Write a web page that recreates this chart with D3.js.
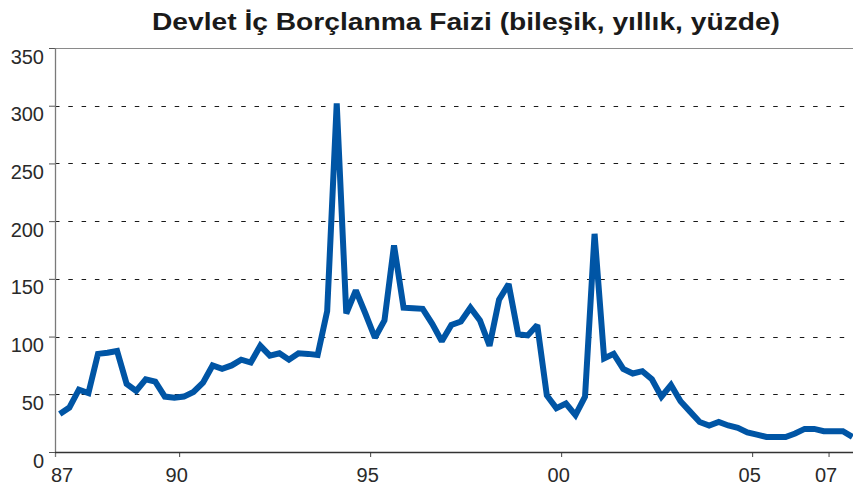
<!DOCTYPE html>
<html>
<head>
<meta charset="utf-8">
<script src="https://cdn.jsdelivr.net/npm/d3@7"></script>
<style>
    body { margin: 0; background: #fff; }
    #chart { width: 853px; height: 491px; }
    text { font-family: "Liberation Sans", Arial, Helvetica, sans-serif; }
</style>
</head>
<body>
<div id="chart"></div>
<script>
// quarterly series, first quarter is 1986Q4
const startYear = 1986.75;
const rates = [
    33, 38.5, 54, 51, 85, 86, 87.5, 59, 53, 63,
    61, 48, 47, 48, 52, 60, 75, 72, 75, 80,
    77.5, 92, 83.5, 85.5, 80, 85.5, 85, 84, 122, 302,
    120, 140, 120, 99, 114, 179, 125, 124.5, 124, 111,
    96, 110, 113, 125, 114, 92, 132, 145.5, 102, 101,
    110, 49, 38, 42, 32, 48, 189, 81, 85, 72,
    68, 70, 63, 48, 58, 44, 35, 26, 23, 26,
    23, 21, 17, 15, 13, 13, 13, 16, 20, 20,
    18, 18, 18, 13
];
const yTicks = [0, 50, 100, 150, 200, 250, 300, 350];
const xTicks = [1990, 1995, 2000, 2005, 2007];
const xLabels = [1987, 1990, 1995, 2000, 2005, 2007];
const title = "Devlet İç Borçlanma Faizi (bileşik, yıllık, yüzde)";

(function() {
    const width = 853, height = 491;
    const left = 55, bottom = 452, top = 48;

    const data = rates.map((v, i) => ({ t: startYear + 0.125 + i * 0.25, v: v }));

    const x = d3.scaleLinear()
        .domain([startYear, startYear + 21])
        .range([left, left + 21 * 38.2]);

    const y = d3.scaleLinear()
        .domain([0, 350])
        .range([bottom, top]);

    const svg = d3.select("#chart").append("svg")
        .attr("width", width)
        .attr("height", height);

    // title
    svg.append("text")
        .attr("x", 466)
        .attr("y", 30)
        .attr("text-anchor", "middle")
        .attr("font-size", 24)
        .attr("font-weight", "bold")
        .attr("fill", "#1a1a1a")
        .attr("textLength", 628)
        .attr("lengthAdjust", "spacingAndGlyphs")
        .text(title);

    // dashed grid
    svg.append("g")
        .selectAll("line")
        .data(yTicks.filter(d => d > 0 && d < 350))
        .join("line")
        .attr("x1", left)
        .attr("x2", width)
        .attr("y1", d => Math.round(y(d)) + 0.5)
        .attr("y2", d => Math.round(y(d)) + 0.5)
        .attr("stroke", "#1a1a1a")
        .attr("stroke-width", 1.1)
        .attr("stroke-dasharray", "4.5,8.8");

    // top frame line
    svg.append("line")
        .attr("x1", left)
        .attr("x2", width)
        .attr("y1", Math.round(y(350)) + 0.5)
        .attr("y2", Math.round(y(350)) + 0.5)
        .attr("stroke", "#8a8a8a")
        .attr("stroke-width", 1.2);

    // y axis
    const yAxis = svg.append("g")
        .attr("transform", `translate(${left},0)`)
        .call(d3.axisLeft(y).tickValues(yTicks).tickSize(6).tickFormat(d3.format("d")));
    yAxis.select(".domain").remove();
    yAxis.selectAll(".tick line").attr("stroke", "#555");
    yAxis.selectAll(".tick text")
        .attr("font-size", 20)
        .attr("fill", "#2a2a2a")
        .attr("x", -11)
        .attr("dy", "0.75em");

    svg.append("line")
        .attr("x1", left + 0.5)
        .attr("x2", left + 0.5)
        .attr("y1", y(350))
        .attr("y2", bottom + 5)
        .attr("stroke", "#7a7a7a")
        .attr("stroke-width", 1.3);

    // x axis
    const xAxis = svg.append("g")
        .attr("transform", `translate(0,${bottom})`)
        .call(d3.axisBottom(x).tickValues(xTicks).tickSize(5).tickFormat(""));
    xAxis.select(".domain").remove();
    xAxis.selectAll(".tick line").attr("stroke", "#444");

    svg.append("line")
        .attr("x1", left)
        .attr("x2", width)
        .attr("y1", bottom + 0.5)
        .attr("y2", bottom + 0.5)
        .attr("stroke", "#333")
        .attr("stroke-width", 1.3);

    svg.append("g")
        .selectAll("text")
        .data(xLabels)
        .join("text")
        .attr("x", d => x(d) - 2.5)
        .attr("y", bottom + 30)
        .attr("text-anchor", "middle")
        .attr("font-size", 20)
        .attr("fill", "#2a2a2a")
        .text(d => String(d).slice(2));

    // rate line
    const line = d3.line()
        .x(d => x(d.t))
        .y(d => y(d.v));

    svg.append("path")
        .datum(data)
        .attr("fill", "none")
        .attr("stroke", "#0055a5")
        .attr("stroke-width", 6)
        .attr("stroke-linejoin", "miter")
        .attr("stroke-miterlimit", 2)
        .attr("d", line);
})();
</script>
</body>
</html>
